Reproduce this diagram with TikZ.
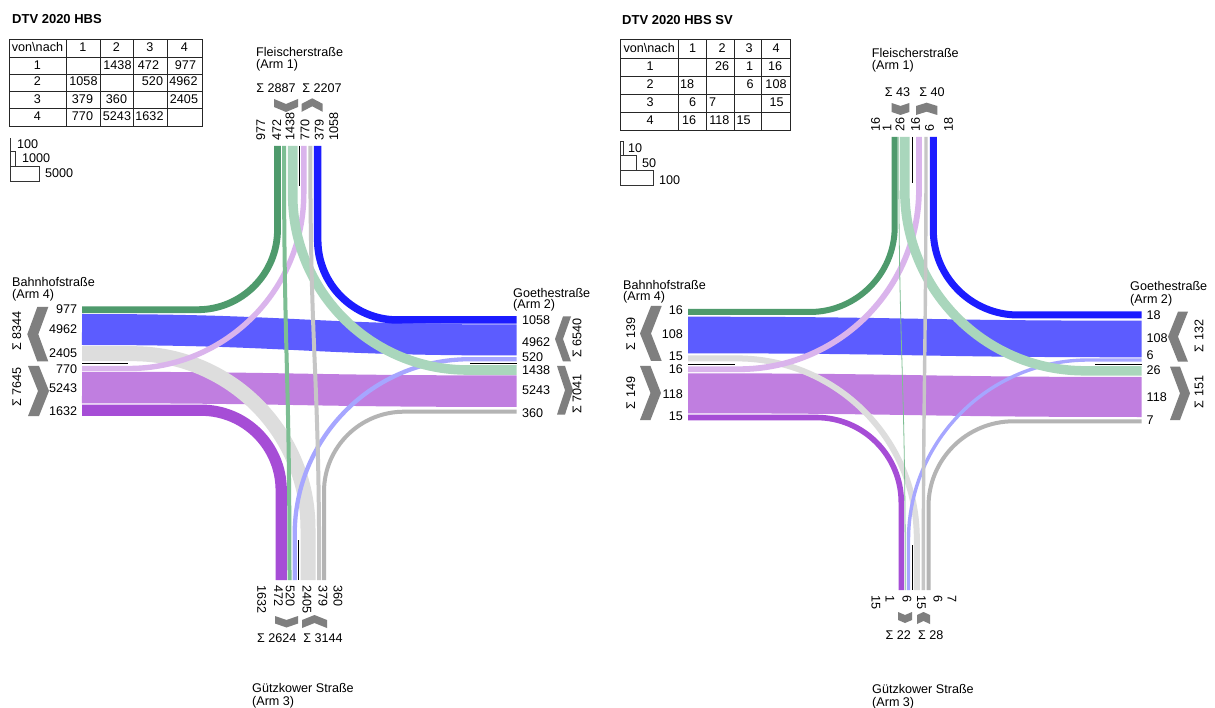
\documentclass[tikz,border=0pt]{standalone}
\usepackage{fontspec}
\setmainfont{Liberation Sans}
\definecolor{cG1}{HTML}{4E9A6C}
\definecolor{cG2}{HTML}{7DBE93}
\definecolor{cG3}{HTML}{A9D6BC}
\definecolor{cB1}{HTML}{1C1CFF}
\definecolor{cB2}{HTML}{5C5CFF}
\definecolor{cB3}{HTML}{A6A6FF}
\definecolor{cP1}{HTML}{DAB4EC}
\definecolor{cP2}{HTML}{C07EE0}
\definecolor{cP3}{HTML}{A64DD6}
\definecolor{cR1}{HTML}{C6C6C6}
\definecolor{cR2}{HTML}{B4B4B4}
\definecolor{cR4}{HTML}{DDDDDD}
\definecolor{chevgray}{HTML}{7F7F7F}
\tikzset{
 lbl/.style={font=\fontsize{12.6}{14}\selectfont, inner sep=0pt},
 ttl/.style={font=\bfseries\fontsize{13}{15}\selectfont, inner sep=0pt, anchor=west},
 band/.style={line cap=butt, line join=round},
 sepline/.style={black, line width=0.8pt},
 tabline/.style={black!85, line width=0.8pt},
 legbox/.style={black!80, line width=0.7pt},
 chevfill/.style={fill=chevgray},
 upnum/.style={lbl, rotate=90, anchor=west},
 dnnum/.style={lbl, rotate=-90, anchor=west},
 sidesum/.style={lbl, rotate=90},
 lnum/.style={lbl, anchor=east},
 rnum/.style={lbl, anchor=west},
 street/.style={lbl, anchor=west},
}
\begin{document}
\begin{tikzpicture}[x=1pt,y=-1pt]
\useasboundingbox (0,0) rectangle (1215,708);
\fill[white] (0,0) rectangle (1215,708);

%================ LEFT DIAGRAM =================
% straight horizontal flows
\draw[band, cB2, line width=31pt] (82,329.5) .. controls (299,329.5) and (299,340) .. (516.5,340);
\draw[band, cP2, line width=31.5pt] (82,387.5) .. controls (299,387.5) and (299,391.2) .. (516.5,391.2);
% right turns
\draw[band, cG1, line width=6.8pt, rounded corners=80pt] (277.5,146) -- (277.5,309.7) -- (82,309.7);
\draw[band, cB1, line width=7.5pt, rounded corners=80pt] (317.7,146) -- (317.7,320) -- (516.5,320);
\draw[band, cP3, line width=11.3pt, rounded corners=80pt] (82,410.2) -- (281.2,410.2) -- (281.2,580);
\draw[band, cR2, line width=4pt, rounded corners=80pt] (324,580) -- (324,411.7) -- (516.5,411.7);
% left turns
\draw[band, cR4, line width=15pt, rounded corners=175pt] (308,580) -- (308,353.7) -- (82,353.7);
\draw[band, cP1, line width=5.4pt, rounded corners=175pt] (82,368.5) -- (303.8,368.5) -- (303.8,146);
\draw[band, cB3, line width=4.3pt, rounded corners=175pt] (516.5,359.2) -- (294.7,359.2) -- (294.7,580);
\draw[band, cG3, line width=9.6pt, rounded corners=175pt] (292.7,146) -- (292.7,370) -- (516.5,370);
% straight vertical flows
\draw[band, cG2, line width=4pt] (284,146) .. controls (284,363) and (289.5,363) .. (289.5,580);
\draw[band, cR1, line width=4pt] (319.2,580) .. controls (319.2,363) and (310.3,363) .. (310.3,146);
% separators
\draw[sepline] (299,146) -- (299,186);
\draw[sepline] (298,540) -- (298,580);
\draw[sepline] (82,363.5) -- (128,363.5);
\draw[sepline] (470,363.5) -- (516.5,363.5);

% chevrons
\fill[chevfill] (37.3,307) -- (48.3,307) -- (38.3,334.25) -- (48.3,361.5) -- (37.3,361.5) -- (27.3,334.25) -- cycle;
\fill[chevfill] (28,366) -- (39,366) -- (49,391) -- (39,416) -- (28,416) -- (38,391) -- cycle;
\fill[chevfill] (563,316.5) -- (571,316.5) -- (563,339) -- (571,361.5) -- (563,361.5) -- (555,339) -- cycle;
\fill[chevfill] (557,366) -- (565,366) -- (573,390.25) -- (565,414.5) -- (557,414.5) -- (565,390.25) -- cycle;
\fill[chevfill] (274,99) -- (286,104) -- (298,99) -- (298,107) -- (286,112) -- (274,107) -- cycle;
\fill[chevfill] (301.7,103.8) -- (312.2,98.3) -- (322.7,103.8) -- (322.7,111.8) -- (312.2,106.3) -- (301.7,111.8) -- cycle;
\fill[chevfill] (275,616) -- (286.5,620) -- (298,616) -- (298,623.5) -- (286.5,627.5) -- (275,623.5) -- cycle;
\fill[chevfill] (302,620) -- (314.5,615) -- (327,620) -- (327,628) -- (314.5,623) -- (302,628) -- cycle;

% title
\node[ttl] (Ltitle) at (12,19.5) {DTV 2020 HBS};
% table
\draw[tabline] (9,39.3) rectangle (202,126);
\foreach \xx in {66,100,133,167} \draw[tabline] (\xx,39.3) -- (\xx,126);
\foreach \yy in {57.3,74,91,108.3} \draw[tabline] (9,\yy) -- (202,\yy);
\node[lbl] (Lh0) at (37.5,47.5) {von\textbackslash{}nach};
\node[lbl] (Lh1) at (83,47.5) {1};
\node[lbl] (Lh2) at (116.5,47.5) {2};
\node[lbl] (Lh3) at (150,47.5) {3};
\node[lbl] (Lh4) at (184.5,47.5) {4};
\node[lbl] (Lr1) at (37.5,64.7) {1};
\node[lbl] (Lr2) at (37.5,81.5) {2};
\node[lbl] (Lr3) at (37.5,98.7) {3};
\node[lbl] (Lr4) at (37.5,116.2) {4};
\node[lbl] (Lc12) at (117.5,64.7) {1438};
\node[lbl] (Lc13) at (148.5,64.7) {472};
\node[lbl] (Lc14) at (185.5,64.7) {977};
\node[lbl] (Lc21) at (83.5,81.5) {1058};
\node[lbl] (Lc23) at (152.5,81.5) {520};
\node[lbl] (Lc24) at (183.5,81.5) {4962};
\node[lbl] (Lc31) at (82.5,98.7) {379};
\node[lbl] (Lc32) at (116.5,98.7) {360};
\node[lbl] (Lc34) at (184,98.7) {2405};
\node[lbl] (Lc41) at (82.5,116.2) {770};
\node[lbl] (Lc42) at (117,116.2) {5243};
\node[lbl] (Lc43) at (149.5,116.2) {1632};
% legend
\draw[legbox] (10,138.3) -- (10,151.7);
\draw[legbox] (10,151.7) rectangle (15.5,166.7);
\draw[legbox] (10,166.7) rectangle (39.5,181.7);
\node[rnum] (Lleg1) at (17,144) {100};
\node[rnum] (Lleg2) at (22,158.5) {1000};
\node[rnum] (Lleg3) at (45,173.5) {5000};

% street names
\node[street] (Ls1a) at (256,52.5) {Fleischerstraße};
\node[street] (Ls1b) at (256,65) {(Arm 1)};
\node[street] (Ls4a) at (12,281.7) {Bahnhofstraße};
\node[street] (Ls4b) at (12,295) {(Arm 4)};
\node[street] (Ls2a) at (513,293) {Goethestraße};
\node[street] (Ls2b) at (513,305.5) {(Arm 2)};
\node[street] (Ls3a) at (252,688) {Gützkower Straße};
\node[street] (Ls3b) at (252,702) {(Arm 3)};

% sums
\node[lbl] (LsumT1) at (276,88) {Σ 2887};
\node[lbl] (LsumT2) at (322,88) {Σ 2207};
\node[lbl] (LsumB1) at (276.7,638) {Σ 2624};
\node[lbl] (LsumB2) at (323,638) {Σ 3144};
\node[sidesum] (LsumL1) at (16.7,331) {Σ 8344};
\node[sidesum] (LsumL2) at (16.7,387) {Σ 7645};
\node[sidesum] (LsumR1) at (577,338) {Σ 6540};
\node[sidesum] (LsumR2) at (577,394) {Σ 7041};

% top numbers
\node[upnum] (LnT1) at (260.7,140.5) {977};
\node[upnum] (LnT2) at (276.7,140.5) {472};
\node[upnum] (LnT3) at (290,140.5) {1438};
\node[upnum] (LnT4) at (305,140.5) {770};
\node[upnum] (LnT5) at (319.4,140.5) {379};
\node[upnum] (LnT6) at (333.7,140.5) {1058};
% bottom numbers
\node[dnnum] (LnB1) at (261.7,585) {1632};
\node[dnnum] (LnB2) at (278.4,585) {472};
\node[dnnum] (LnB3) at (290.3,585) {520};
\node[dnnum] (LnB4) at (307,585) {2405};
\node[dnnum] (LnB5) at (323,585) {379};
\node[dnnum] (LnB6) at (338,585) {360};
% left numbers
\node[lnum] (LnL1) at (77.3,309.3) {977};
\node[lnum] (LnL2) at (77.3,329.3) {4962};
\node[lnum] (LnL3) at (77.3,352.7) {2405};
\node[lnum] (LnL4) at (77.3,369.3) {770};
\node[lnum] (LnL5) at (77.3,388.3) {5243};
\node[lnum] (LnL6) at (77.3,410.7) {1632};
% right numbers
\node[rnum] (LnR1) at (522,320) {1058};
\node[rnum] (LnR2) at (522,341.7) {4962};
\node[rnum] (LnR3) at (522,356.7) {520};
\node[rnum] (LnR4) at (522,370) {1438};
\node[rnum] (LnR5) at (522,390) {5243};
\node[rnum] (LnR6) at (522,413.3) {360};

%================ RIGHT DIAGRAM =================
\draw[band, cB2, line width=36.6pt] (688,335) .. controls (914.85,335) and (914.85,339) .. (1141.7,339);
\draw[band, cP2, line width=40pt] (688,393.3) .. controls (914.85,393.3) and (914.85,397) .. (1141.7,397);
\draw[band, cG1, line width=6pt, rounded corners=85pt] (894.7,137) -- (894.7,312) -- (688,312);
\draw[band, cB1, line width=7pt, rounded corners=85pt] (933.3,137) -- (933.3,315) -- (1141.7,315);
\draw[band, cP3, line width=5.6pt, rounded corners=85pt] (688,417.5) -- (901.3,417.5) -- (901.3,590);
\draw[band, cR2, line width=4pt, rounded corners=85pt] (928.5,590) -- (928.5,421.3) -- (1141.7,421.3);
\draw[band, cR4, line width=6pt, rounded corners=180pt] (916.8,590) -- (916.8,358.4) -- (688,358.4);
\draw[band, cP1, line width=5.8pt, rounded corners=180pt] (688,369.2) -- (919,369.2) -- (919,137);
\draw[band, cB3, line width=3.4pt, rounded corners=180pt] (1141.7,360) -- (908.5,360) -- (908.5,590);
\draw[band, cG3, line width=9.5pt, rounded corners=180pt] (904.8,137) -- (904.8,370.8) -- (1141.7,370.8);
\draw[band, cG2, line width=0.8pt] (898.7,137) .. controls (898.7,363.5) and (905.3,363.5) .. (905.3,590);
\draw[band, cR1, line width=3.4pt] (923.3,590) .. controls (923.3,363.5) and (926,363.5) .. (926,137);
\draw[sepline] (912.5,137) -- (912.5,183);
\draw[sepline] (912,545) -- (912,590);
\draw[sepline] (688,364.3) -- (735,364.3);
\draw[sepline] (1095,364.3) -- (1141.7,364.3);

\fill[chevfill] (651,306) -- (661.7,306) -- (651,333.5) -- (661.7,361) -- (651,361) -- (640,333.5) -- cycle;
\fill[chevfill] (640,366) -- (650.5,366) -- (661,393) -- (650.5,420) -- (640,420) -- (650.5,393) -- cycle;
\fill[chevfill] (1178,311.7) -- (1188,311.7) -- (1178,336.7) -- (1188,361.7) -- (1178,361.7) -- (1168,336.7) -- cycle;
\fill[chevfill] (1170,366.7) -- (1180,366.7) -- (1190,393.3) -- (1180,420) -- (1170,420) -- (1180,393.3) -- cycle;
\fill[chevfill] (891.7,103) -- (900.5,106) -- (909.3,103) -- (909.3,112) -- (900.5,115) -- (891.7,112) -- cycle;
\fill[chevfill] (916,106) -- (926.65,102.7) -- (937.3,106) -- (937.3,115) -- (926.65,111.7) -- (916,115) -- cycle;
\fill[chevfill] (898,612) -- (905,615) -- (912,612) -- (912,620) -- (905,623) -- (898,620) -- cycle;
\fill[chevfill] (917,615) -- (923.5,612) -- (930,615) -- (930,624) -- (923.5,621) -- (917,624) -- cycle;

\node[ttl] (Rtitle) at (622,20) {DTV 2020 HBS SV};
\draw[tabline] (620,39.3) rectangle (790,130);
\foreach \xx in {678.3,706.7,734,761.7} \draw[tabline] (\xx,39.3) -- (\xx,130);
\foreach \yy in {58.3,76,94.3,112.7} \draw[tabline] (620,\yy) -- (790,\yy);
\node[lbl] (Rh0) at (649.2,47.8) {von\textbackslash{}nach};
\node[lbl] (Rh1) at (692.5,47.8) {1};
\node[lbl] (Rh2) at (722,47.8) {2};
\node[lbl] (Rh3) at (749,47.8) {3};
\node[lbl] (Rh4) at (776,47.8) {4};
\node[lbl] (Rr1) at (650,66.2) {1};
\node[lbl] (Rr2) at (650,84.2) {2};
\node[lbl] (Rr3) at (650,102.5) {3};
\node[lbl] (Rr4) at (650,120.3) {4};
\node[lbl] (Rc12) at (722,66.2) {26};
\node[lbl] (Rc13) at (749.5,66.2) {1};
\node[lbl] (Rc14) at (775,66.2) {16};
\node[lbl] (Rc21) at (687,84.2) {18};
\node[lbl] (Rc23) at (750,84.2) {6};
\node[lbl] (Rc24) at (776,84.2) {108};
\node[lbl] (Rc31) at (692.5,102.5) {6};
\node[lbl] (Rc32) at (712.5,102.5) {7};
\node[lbl] (Rc34) at (776.5,102.5) {15};
\node[lbl] (Rc41) at (689,120.3) {16};
\node[lbl] (Rc42) at (719.3,120.3) {118};
\node[lbl] (Rc43) at (743.5,120.3) {15};
\draw[legbox] (620.7,141.7) rectangle (623.3,155);
\draw[legbox] (620.7,155) rectangle (636.7,170);
\draw[legbox] (620.7,170) rectangle (653.3,185);
\node[rnum] (Rleg1) at (628,148.3) {10};
\node[rnum] (Rleg2) at (642,163.3) {50};
\node[rnum] (Rleg3) at (659,180) {100};

\node[street] (Rs1a) at (871.7,53.3) {Fleischerstraße};
\node[street] (Rs1b) at (871.7,66.7) {(Arm 1)};
\node[street] (Rs4a) at (623,284.5) {Bahnhofstraße};
\node[street] (Rs4b) at (623,297) {(Arm 4)};
\node[street] (Rs2a) at (1130,286) {Goethestraße};
\node[street] (Rs2b) at (1130,300.5) {(Arm 2)};
\node[street] (Rs3a) at (872,689) {Gützkower Straße};
\node[street] (Rs3b) at (872,703) {(Arm 3)};

\node[lbl] (RsumT1) at (897.5,91.7) {Σ 43};
\node[lbl] (RsumT2) at (932,91.7) {Σ 40};
\node[lbl] (RsumB1) at (898.3,635) {Σ 22};
\node[lbl] (RsumB2) at (930.8,635) {Σ 28};
\node[sidesum] (RsumL1) at (630.8,334) {Σ 139};
\node[sidesum] (RsumL2) at (630.8,393) {Σ 149};
\node[sidesum] (RsumR1) at (1199,336) {Σ 132};
\node[sidesum] (RsumR2) at (1199,392) {Σ 151};

\node[upnum] (RnT1) at (875.5,132) {16};
\node[upnum] (RnT2) at (887,132) {1};
\node[upnum] (RnT3) at (900,132) {26};
\node[upnum] (RnT4) at (915.5,132) {16};
\node[upnum] (RnT5) at (929.5,132) {6};
\node[upnum] (RnT6) at (948.5,132) {18};
\node[dnnum] (RnB1) at (876,595) {15};
\node[dnnum] (RnB2) at (890,595) {1};
\node[dnnum] (RnB3) at (907,595) {6};
\node[dnnum] (RnB4) at (921.5,595) {15};
\node[dnnum] (RnB5) at (938,595) {6};
\node[dnnum] (RnB6) at (952,595) {7};
\node[lnum] (RnL1) at (683,310.5) {16};
\node[lnum] (RnL2) at (683,334.5) {108};
\node[lnum] (RnL3) at (683,356.3) {15};
\node[lnum] (RnL4) at (683,369.5) {16};
\node[lnum] (RnL5) at (683,394.5) {118};
\node[lnum] (RnL6) at (683,416.7) {15};
\node[rnum] (RnR1) at (1146.5,315) {18};
\node[rnum] (RnR2) at (1146.5,338.3) {108};
\node[rnum] (RnR3) at (1146.5,355) {6};
\node[rnum] (RnR4) at (1146.5,370) {26};
\node[rnum] (RnR5) at (1146.5,396.7) {118};
\node[rnum] (RnR6) at (1146.5,420) {7};
\end{tikzpicture}
\end{document}
